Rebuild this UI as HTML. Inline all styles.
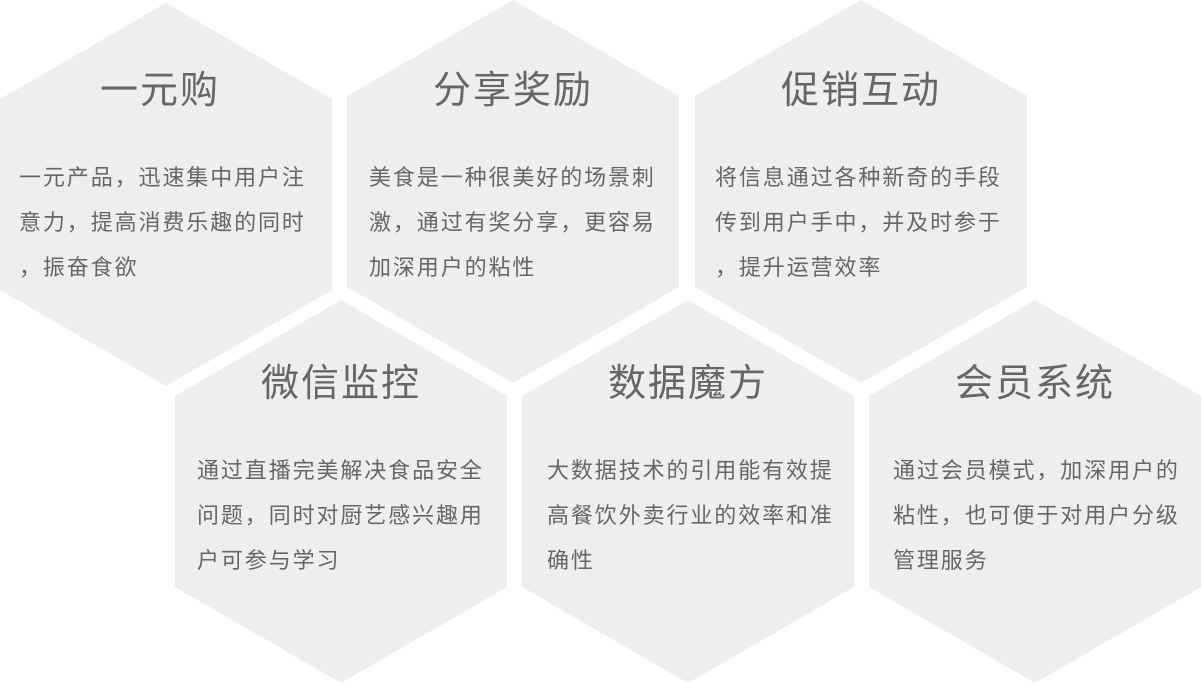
<!DOCTYPE html>
<html><head><meta charset="utf-8"><style>
html,body{margin:0;padding:0;background:#fff;}
body{width:1201px;height:684px;position:relative;overflow:hidden;font-family:"Liberation Sans","Noto Sans CJK SC",sans-serif;color:#666;}
svg{position:absolute;left:0;top:0;}
.t{position:absolute;width:332px;text-align:center;font-size:38px;line-height:40px;color:#666;letter-spacing:2px;}
.b{position:absolute;font-size:22px;line-height:45px;color:#666;white-space:nowrap;letter-spacing:1.9px;}
</style></head><body>
<svg width="1201" height="684">
<g fill="#eeeeee">
<polygon points="166,3 332,99 332,290 166,386 0,290 0,99"/>
<polygon points="513,0 679,96 679,287 513,383 347,287 347,96"/>
<polygon points="861,0 1027,96 1027,287 861,383 695,287 695,96"/>
<polygon points="341,300 507,396 507,587 341,683 175,587 175,396"/>
<polygon points="688,300 854,396 854,587 688,683 522,587 522,396"/>
<polygon points="1035,300 1201,396 1201,587 1035,683 869,587 869,396"/>
</g></svg>
<div class="t" style="left:-6px;top:71px">一元购</div>
<div class="b" style="left:19px;top:155px">一元产品，迅速集中用户注<br>意力，提高消费乐趣的同时<br>，振奋食欲</div>
<div class="t" style="left:347px;top:71px">分享奖励</div>
<div class="b" style="left:369px;top:155px">美食是一种很美好的场景刺<br>激，通过有奖分享，更容易<br>加深用户的粘性</div>
<div class="t" style="left:695px;top:71px">促销互动</div>
<div class="b" style="left:715px;top:155px">将信息通过各种新奇的手段<br>传到用户手中，并及时参于<br>，提升运营效率</div>
<div class="t" style="left:175px;top:364px">微信监控</div>
<div class="b" style="left:197px;top:448px">通过直播完美解决食品安全<br>问题，同时对厨艺感兴趣用<br>户可参与学习</div>
<div class="t" style="left:522px;top:364px">数据魔方</div>
<div class="b" style="left:547px;top:448px">大数据技术的引用能有效提<br>高餐饮外卖行业的效率和准<br>确性</div>
<div class="t" style="left:869px;top:364px">会员系统</div>
<div class="b" style="left:893px;top:448px">通过会员模式，加深用户的<br>粘性，也可便于对用户分级<br>管理服务</div>
</body></html>
